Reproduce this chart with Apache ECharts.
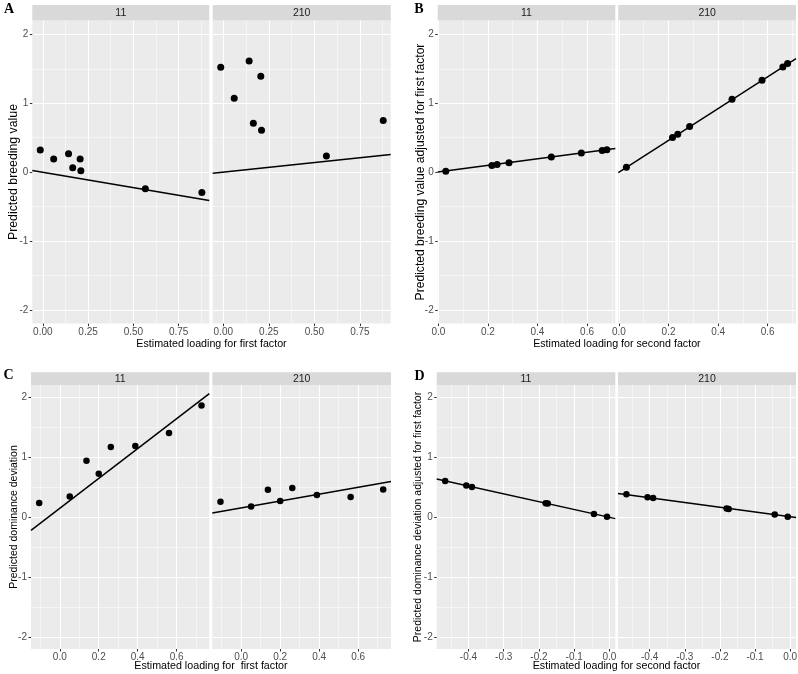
<!DOCTYPE html>
<html><head><meta charset="utf-8">
<script src="https://cdn.jsdelivr.net/npm/echarts@6/dist/echarts.min.js"></script>
<style>html,body{margin:0;padding:0;background:#fff}#c{width:798px;height:674px}</style>
</head><body><div id="c"></div>
<script>
// ---------- data ----------
const facetLabels = ['11', '210'];
const yTicks = [-2, -1, 0, 1, 2];
const xTicksA = [0, 0.25, 0.5, 0.75];
const xTicksB = [0, 0.2, 0.4, 0.6];
const xTicksC = [0, 0.2, 0.4, 0.6];
const xTicksD = [-0.4, -0.3, -0.2, -0.1, 0];

// Panel A: loading for first factor vs predicted breeding value
const loadA = [-0.014, 0.060, 0.142, 0.165, 0.206, 0.210, 0.566, 0.878];
const bvA11 = [0.32, 0.19, 0.265, 0.062, 0.19, 0.019, -0.242, -0.296];
const bvA210 = [1.524, 1.074, 1.615, 0.711, 1.393, 0.609, 0.232, 0.749];
const lineA11 = [[-0.058, 0.023], [0.919, -0.412]];
const lineA210 = [[-0.058, -0.015], [0.919, 0.255]];

// Panel B: loading for second factor vs breeding value adjusted for first factor
const loadB = [0.030, 0.216, 0.237, 0.285, 0.456, 0.577, 0.661, 0.680];
const bvB11 = [0.014, 0.096, 0.11, 0.135, 0.218, 0.276, 0.314, 0.324];
const bvB210 = [0.072, 0.502, 0.551, 0.662, 1.059, 1.335, 1.528, 1.576];
const lineB11 = [[-0.0026, 0.0], [0.714, 0.343]];
const lineB210 = [[-0.0026, -0.006], [0.714, 1.649]];

// Panel C: loading for first factor vs predicted dominance deviation
const loadC = [-0.106, 0.051, 0.137, 0.200, 0.262, 0.388, 0.561, 0.728];
const ddC11 = [0.233, 0.343, 0.938, 0.722, 1.167, 1.183, 1.40, 1.86];
const ddC210 = [0.255, 0.177, 0.455, 0.267, 0.483, 0.367, 0.333, 0.46];
const lineC11 = [[-0.148, -0.223], [0.768, 2.055]];
const lineC210 = [[-0.148, 0.067], [0.768, 0.593]];

// Panel D: loading for second factor vs dominance deviation adjusted for first factor
const loadD = [-0.466, -0.406, -0.390, -0.181, -0.175, -0.044, -0.007];
const ddD11 = [0.60, 0.523, 0.50, 0.228, 0.223, 0.05, 0.006];
const ddD210 = [0.378, 0.328, 0.317, 0.14, 0.133, 0.04, 0.006];
const lineD11 = [[-0.49, 0.633], [0.0165, -0.027]];
const lineD210 = [[-0.49, 0.39], [0.0165, -0.01]];

// ---------- layout ----------
const FONT = "'Liberation Sans', Arial, Helvetica, sans-serif";
const SERIF = "'Liberation Serif', 'Times New Roman', serif";

const facets = [
  {l: 32.3, t: 20.6, w: 177, h: 303, xr: [-0.058, 0.919], iv: 0.25, ticks: xTicksA, dec: 2, x: loadA, y: bvA11, line: lineA11, yl: true, strip: 0, sz: 7, lm: 4},
  {l: 212.7, t: 20.6, w: 178, h: 303, xr: [-0.058, 0.919], iv: 0.25, ticks: xTicksA, dec: 2, x: loadA, y: bvA210, line: lineA210, yl: false, strip: 1, sz: 7, lm: 4},
  {l: 437.7, t: 20.6, w: 177.6, h: 303, xr: [-0.0026, 0.714], iv: 0.2, ticks: xTicksB, dec: 1, x: loadB, y: bvB11, line: lineB11, yl: true, strip: 0, sz: 7, lm: 4},
  {l: 618.3, t: 20.6, w: 177.7, h: 303, xr: [-0.0026, 0.714], iv: 0.2, ticks: xTicksB, dec: 1, x: loadB, y: bvB210, line: lineB210, yl: false, strip: 1, sz: 7, lm: 4},
  {l: 31, t: 385, w: 178.3, h: 264, xr: [-0.148, 0.768], iv: 0.2, ticks: xTicksC, dec: 1, x: loadC, y: ddC11, line: lineC11, yl: true, strip: 0, sz: 6.5, lm: 3},
  {l: 212.3, t: 385, w: 178.7, h: 264, xr: [-0.148, 0.768], iv: 0.2, ticks: xTicksC, dec: 1, x: loadC, y: ddC210, line: lineC210, yl: false, strip: 1, sz: 6.5, lm: 3},
  {l: 436.7, t: 385, w: 178.6, h: 264, xr: [-0.49, 0.0165], iv: 0.1, ticks: xTicksD, dec: 1, x: loadD, y: ddD11, line: lineD11, yl: true, strip: 0, sz: 6.5, lm: 3},
  {l: 618, t: 385, w: 178, h: 264, xr: [-0.49, 0.0165], iv: 0.1, ticks: xTicksD, dec: 1, x: loadD, y: ddD210, line: lineD210, yl: false, strip: 1, sz: 6.5, lm: 3}
];

const grids = [], xAxes = [], yAxes = [], series = [], graphics = [];

facets.forEach((f, i) => {
  grids.push({left: f.l, top: f.t, width: f.w, height: f.h, show: true, backgroundColor: '#EBEBEB',
    borderWidth: 0, containLabel: false, outerBoundsMode: 'none'});
  xAxes.push({
    type: 'value', gridIndex: i, position: 'bottom', min: f.xr[0], max: f.xr[1], minInterval: f.iv, maxInterval: f.iv,
    axisLine: {show: false, onZero: false},
    axisTick: {show: true, inside: false, length: 2.5, customValues: f.ticks, lineStyle: {color: '#333333', width: 1}},
    axisLabel: {show: true, customValues: f.ticks, formatter: v => Number(v).toFixed(f.dec),
      fontSize: 10, color: '#4D4D4D', margin: f.lm, fontFamily: FONT},
    splitLine: {show: true, lineStyle: {color: '#FFFFFF', width: 1.1}},
    minorTick: {show: false, splitNumber: 2},
    minorSplitLine: {show: true, lineStyle: {color: '#FFFFFF', width: 0.5}}
  });
  yAxes.push({
    type: 'value', gridIndex: i, position: 'left', min: -2.2, max: 2.2, minInterval: 1, maxInterval: 1,
    axisLine: {show: false, onZero: false},
    axisTick: {show: f.yl, inside: false, length: 2.5, customValues: yTicks, lineStyle: {color: '#333333', width: 1}},
    axisLabel: {show: f.yl, customValues: yTicks, fontSize: 10, color: '#4D4D4D', margin: 4, fontFamily: FONT},
    splitLine: {show: true, lineStyle: {color: '#FFFFFF', width: 1.1}},
    minorTick: {show: false, splitNumber: 2},
    minorSplitLine: {show: true, lineStyle: {color: '#FFFFFF', width: 0.5}}
  });
  series.push({
    type: 'line', xAxisIndex: i, yAxisIndex: i, data: f.line, showSymbol: false, symbol: 'none',
    lineStyle: {color: '#000', width: 1.5}, silent: true, z: 3, clip: true
  });
  series.push({
    type: 'scatter', xAxisIndex: i, yAxisIndex: i, data: f.x.map((v, k) => [v, f.y[k]]),
    symbol: 'circle', symbolSize: f.sz, itemStyle: {color: '#000', opacity: 1}, silent: true, z: 4
  });
  // strip
  const sy = f.t < 100 ? 5 : 372.3;
  const sh = f.t - sy;
  graphics.push({type: 'rect', shape: {x: f.l, y: sy, width: f.w, height: sh}, style: {fill: '#D9D9D9'}, silent: true});
  graphics.push({type: 'text', x: f.l + f.w / 2, y: sy + sh / 2 + 0.5,
    style: {text: facetLabels[f.strip], fontSize: 10.5, fontFamily: FONT, fill: '#1A1A1A',
      align: 'center', textAlign: 'center', verticalAlign: 'middle', textVerticalAlign: 'middle'}, silent: true});
});

function txt(x, y, s, size, opts) {
  opts = opts || {};
  return {type: 'text', x: x, y: y, rotation: opts.rot || 0, silent: true,
    style: {text: s, fontSize: size, fontFamily: opts.family || FONT, fontWeight: opts.weight || 'normal',
      fill: '#000', align: 'center', textAlign: 'center', verticalAlign: 'middle', textVerticalAlign: 'middle'}};
}

// panel letters
graphics.push(txt(9, 9, 'A', 14, {family: SERIF, weight: 'bold'}));
graphics.push(txt(419, 9, 'B', 14, {family: SERIF, weight: 'bold'}));
graphics.push(txt(8.5, 375.5, 'C', 14, {family: SERIF, weight: 'bold'}));
graphics.push(txt(419.5, 376, 'D', 14, {family: SERIF, weight: 'bold'}));

// axis titles
graphics.push(txt(211.5, 344, 'Estimated loading for first factor', 10.7));
graphics.push(txt(616.9, 344, 'Estimated loading for second factor', 10.7));
graphics.push(txt(211, 666.5, 'Estimated loading for  first factor', 10.7));
graphics.push(txt(616.5, 666.5, 'Estimated loading for second factor', 10.7));
graphics.push(txt(13.3, 172, 'Predicted breeding value', 12.3, {rot: Math.PI / 2}));
graphics.push(txt(420.8, 172, 'Predicted breeding value adjusted for first factor', 12.1, {rot: Math.PI / 2}));
graphics.push(txt(13.8, 517, 'Predicted dominance deviation', 10.5, {rot: Math.PI / 2}));
graphics.push(txt(418, 517, 'Predicted dominance deviation adjusted for first factor', 10.5, {rot: Math.PI / 2}));

const chart = echarts.init(document.getElementById('c'), null, {renderer: 'canvas'});
chart.setOption({
  animation: false,
  backgroundColor: '#FFFFFF',
  grid: grids,
  xAxis: xAxes,
  yAxis: yAxes,
  series: series,
  graphic: {elements: graphics}
});
</script>
</body></html>
